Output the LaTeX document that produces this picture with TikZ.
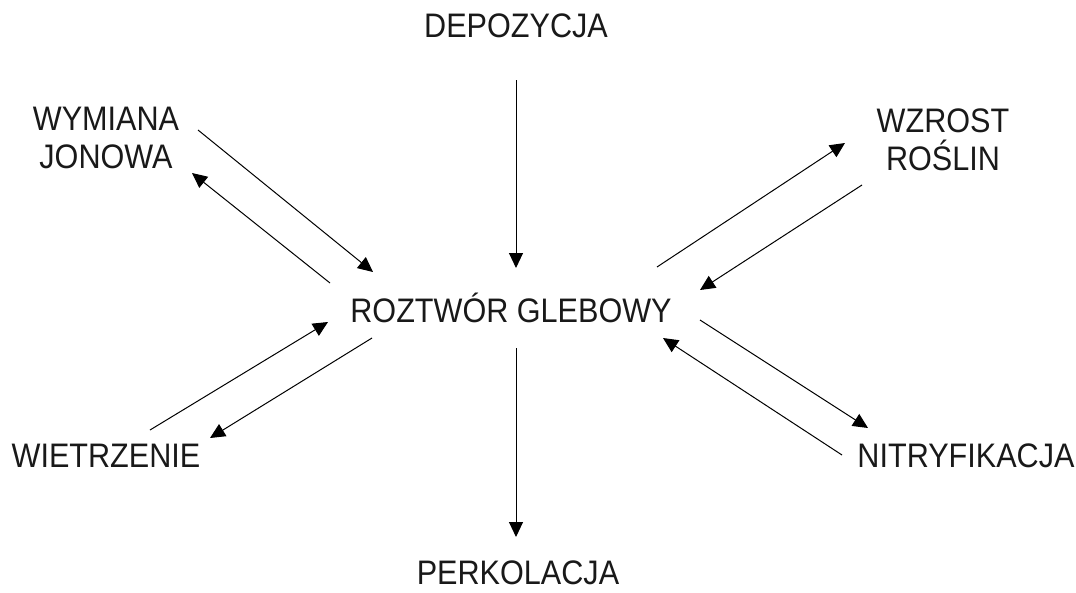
\documentclass[tikz,border=0pt]{standalone}
\usepackage{fontspec}
\usetikzlibrary{arrows.meta}
\newfontfamily\labelfont[FakeStretch=0.9]{Liberation Sans}
\begin{document}
\begin{tikzpicture}[x=1pt,y=-1pt,
  lbl/.style={inner sep=0pt, font=\labelfont\fontsize{34}{38}\selectfont, align=center, text=black!90},
  flow/.style={line width=1pt, -{Triangle[length=15pt,width=14pt]}}]
  \useasboundingbox[fill=white] (0,0) rectangle (1076,592);

  % labels
  \node[lbl, anchor=base] (dep)  at (516,37)  {DEPOZYCJA};
  \node[lbl, anchor=base] (roz)  at (511,322) {ROZTWÓR GLEBOWY};
  \node[lbl, anchor=base] (perk) at (518,584) {PERKOLACJA};
  \node[lbl, anchor=base] (wiet) at (106,467) {WIETRZENIE};
  \node[lbl, anchor=base] (nitr) at (966,467) {NITRYFIKACJA};
  \node[lbl] (wym) at (106,138) {WYMIANA\\JONOWA};
  \node[lbl] (wzr) at (943,140) {WZROST\\ROŚLIN};

  % connector end points
  \coordinate (depS)  at (516,80);   \coordinate (rozN)  at (516,268);
  \coordinate (rozS)  at (516,348);  \coordinate (perkN) at (516,537);
  \coordinate (wymA)  at (198,130);  \coordinate (rozNW) at (373,272);
  \coordinate (rozWN) at (330,283);  \coordinate (wymB)  at (192,173);
  \coordinate (rozNE) at (657,267);  \coordinate (wzrA)  at (845,143);
  \coordinate (wzrB)  at (862,185);  \coordinate (rozEN) at (700,290);
  \coordinate (wietA) at (150,430);  \coordinate (rozWS) at (328,322);
  \coordinate (rozSW) at (372,338);  \coordinate (wietB) at (210,438);
  \coordinate (rozES) at (700,320);  \coordinate (nitrA) at (868,428);
  \coordinate (nitrB) at (842,455);  \coordinate (rozSE) at (663,338);

  % fluxes
  \draw[flow] (depS) -- (rozN);
  \draw[flow] (rozS) -- (perkN);
  \draw[flow] (wymA) -- (rozNW);
  \draw[flow] (rozWN) -- (wymB);
  \draw[flow] (rozNE) -- (wzrA);
  \draw[flow] (wzrB) -- (rozEN);
  \draw[flow] (wietA) -- (rozWS);
  \draw[flow] (rozSW) -- (wietB);
  \draw[flow] (rozES) -- (nitrA);
  \draw[flow] (nitrB) -- (rozSE);
\end{tikzpicture}
\end{document}
